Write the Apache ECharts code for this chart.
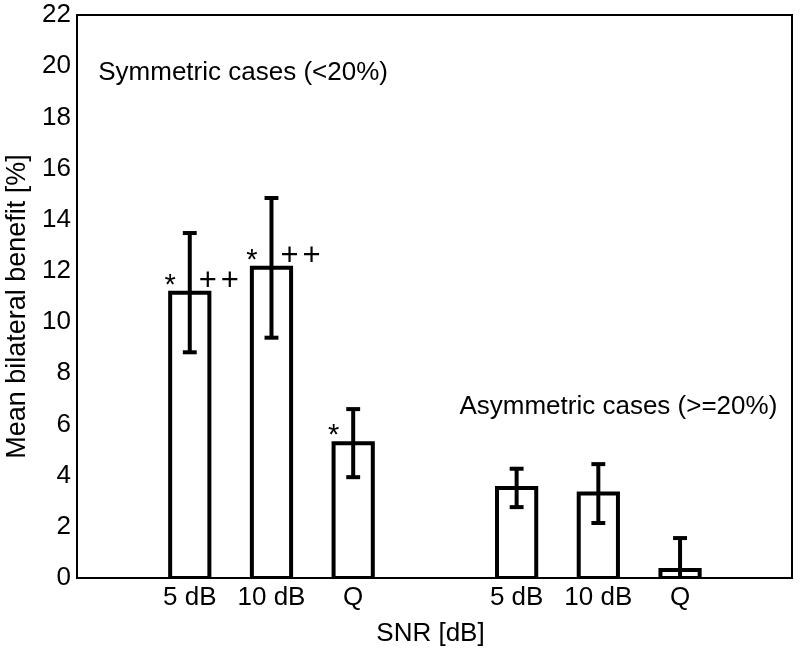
<!DOCTYPE html>
<html>
<head>
<meta charset="utf-8">
<script src="https://cdn.jsdelivr.net/npm/echarts@6/dist/echarts.min.js"></script>
<style>
html,body{margin:0;padding:0;background:#fff;}
#chart{width:800px;height:652px;}
</style>
</head>
<body>
<div id="chart"></div>
<script>
// ---- data ----
const categories = ['5 dB', '10 dB', 'Q', '5 dB', '10 dB', 'Q'];
const xPositions = [1, 2, 3, 5, 6, 7];
const means = [11.15, 12.12, 5.27, 3.52, 3.30, 0.31];
const errors = [2.33, 2.73, 1.33, 0.75, 1.15, 1.25];
const starMarks = ['*', '*', '*', '', '', ''];
const plusMarks = ['++', '++', '', '', '', ''];
const yTicks = [0, 2, 4, 6, 8, 10, 12, 14, 16, 18, 20, 22];
const groupLabels = ['Symmetric cases (<20%)', 'Asymmetric cases (>=20%)'];

const FONT = 'Liberation Sans, Arial, Helvetica, sans-serif';
const chart = echarts.init(document.getElementById('chart'), null, {renderer: 'canvas'});

const barData = xPositions.map((x, i) => [x, means[i], errors[i], starMarks[i], plusMarks[i]]);

const option = {
  animation: false,
  backgroundColor: '#fff',
  grid: {left: 77, right: 8, top: 15, bottom: 74, show: true, borderColor: '#000', borderWidth: 2,
         backgroundColor: 'transparent', containLabel: false, outerBoundsMode: 'none'},
  xAxis: {
    type: 'value', min: -0.38, max: 8.37,
    axisLine: {show: true, onZero: false, lineStyle: {color: '#000', width: 2}},
    axisTick: {show: false},
    splitLine: {show: false},
    axisLabel: {
      customValues: xPositions,
      formatter: v => { const i = xPositions.indexOf(Math.round(v)); return i >= 0 ? categories[i] : ''; },
      color: '#000', fontSize: 26, fontFamily: FONT, margin: 7
    },
    name: 'SNR [dB]', nameLocation: 'middle', nameGap: 43,
    nameTextStyle: {color: '#000', fontSize: 26, fontFamily: FONT, padding: [0, 8, 0, 0]}
  },
  yAxis: {
    type: 'value', min: yTicks[0], max: yTicks[yTicks.length - 1], interval: 2,
    axisLine: {show: true, onZero: false, lineStyle: {color: '#000', width: 2}},
    axisTick: {show: false},
    splitLine: {show: false},
    axisLabel: {color: '#000', fontSize: 26, fontFamily: FONT, margin: 6},
    name: 'Mean bilateral benefit [%]', nameLocation: 'middle', nameGap: 45,
    nameTextStyle: {color: '#000', fontSize: 27, fontFamily: FONT, padding: [0, 20, 0, 0]}
  },
  series: [
    {
      type: 'custom',
      name: 'bars',
      data: barData,
      clip: true,
      z: 3,
      renderItem: function (params, api) {
        const x = api.value(0), m = api.value(1), e = api.value(2);
        const w = api.size([0.48, 0])[0];
        const capW = api.size([0.17, 0])[0];
        const base = api.coord([x, 0]);
        const top = api.coord([x, m]);
        const hi = api.coord([x, m + e]);
        const lo = api.coord([x, Math.max(0, m - e)]);
        const loRaw = m - e;
        const children = [
          {type: 'rect', shape: {x: base[0] - w / 2, y: top[1], width: w, height: base[1] - top[1]},
           style: {fill: '#fff', stroke: '#000', lineWidth: 4}},
          {type: 'line', shape: {x1: hi[0], y1: hi[1], x2: lo[0], y2: lo[1]}, style: {stroke: '#000', lineWidth: 4}},
          {type: 'line', shape: {x1: hi[0] - capW / 2, y1: hi[1], x2: hi[0] + capW / 2, y2: hi[1]}, style: {stroke: '#000', lineWidth: 4}}
        ];
        if (loRaw > 0) {
          children.push({type: 'line', shape: {x1: lo[0] - capW / 2, y1: lo[1], x2: lo[0] + capW / 2, y2: lo[1]}, style: {stroke: '#000', lineWidth: 4}});
        }
        const star = barData[params.dataIndex][3];
        const plus = barData[params.dataIndex][4];
        if (star) {
          children.push({type: 'text', style: {text: star, x: base[0] - w / 2, y: top[1] - 7, align: 'center', verticalAlign: 'middle', fontSize: 29, fontFamily: FONT, fill: '#000'}});
        }
        if (plus) {
          for (let k = 0; k < plus.length; k++) {
            children.push({type: 'text', style: {text: plus[k], x: base[0] + 9 + k * 22, y: top[1] - 11, align: 'left', verticalAlign: 'middle', fontSize: 31, fontFamily: FONT, fill: '#000'}});
          }
        }
        return {type: 'group', children: children};
      }
    },
    {
      type: 'custom',
      name: 'groupLabels',
      data: [[-0.12, 19.73, 0], [4.3, 6.7, 1]],
      z: 4,
      renderItem: function (params, api) {
        const p = api.coord([api.value(0), api.value(1)]);
        return {type: 'text', style: {text: groupLabels[api.value(2)], x: p[0], y: p[1], align: 'left', verticalAlign: 'middle', fontSize: 26, fontFamily: FONT, fill: '#000'}};
      }
    }
  ]
};
chart.setOption(option);
</script>
</body>
</html>
